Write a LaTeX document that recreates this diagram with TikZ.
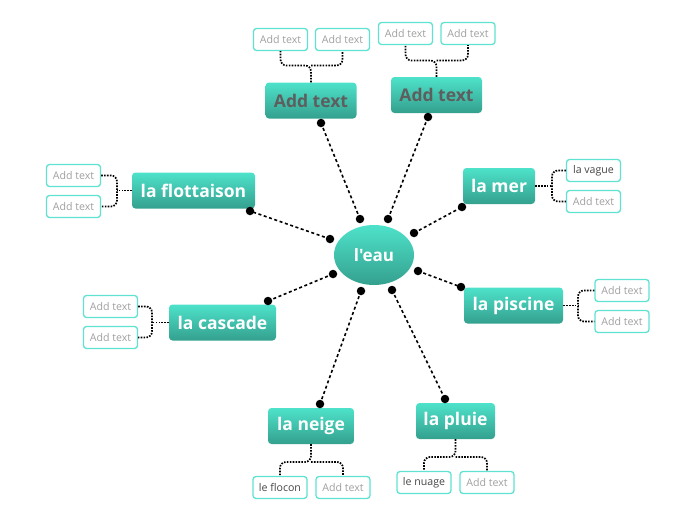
\documentclass[tikz,border=0pt]{standalone}
\usepackage{fontspec}
\setmainfont{Open Sans}[Ligatures=TeXOff]
\usetikzlibrary{shapes.geometric}
\definecolor{tealtop}{HTML}{4EE2CA}
\definecolor{tealbot}{HTML}{34A08E}
\definecolor{subborder}{HTML}{5FE3D0}
\definecolor{addgray}{HTML}{A0A0A0}
\definecolor{darkgray}{HTML}{454545}
\definecolor{maingray}{HTML}{5E5E5E}
\tikzset{
  mainbox/.style={rectangle, rounded corners=3.5pt, top color=tealtop, bottom color=tealbot,
    draw=none, minimum height=36pt, inner xsep=4pt, font=\bfseries\fontsize{17.5}{19}\selectfont, text=white},
  centre/.style={ellipse, top color=tealtop, bottom color=tealbot, draw=none,
    minimum width=80pt, minimum height=60pt, inner sep=0pt, font=\bfseries\fontsize{17}{19}\selectfont, text=white},
  subbox/.style={rectangle, rounded corners=3pt, draw=subborder, line width=1.3pt, fill=white,
    minimum width=54pt, minimum height=22pt, inner sep=1pt, font=\fontsize{10.6}{12}\selectfont, text=addgray},
  subdark/.style={subbox, text=darkgray},
  link/.style={line width=1.6pt, dash pattern=on 3pt off 2.6pt},
  dotlink/.style={line width=1.7pt, dash pattern=on 1.6pt off 1.3pt, rounded corners=6pt},
  dotend/.style={circle, fill=black, inner sep=0pt, minimum size=8.5pt}
}
\begin{document}
\begin{tikzpicture}[x=1pt,y=-1pt]
\useasboundingbox (0,0) rectangle (696,520);
% centre
\node[centre] (e) at (374,255) {l'eau};
% main nodes
\node[mainbox, minimum width=91pt, text=maingray] (tl) at (311,100.5) {Add text};
\node[mainbox, minimum width=91pt, text=maingray] (tr) at (436.5,95) {Add text};
\node[mainbox, minimum width=123pt] (fl) at (193.5,190.5) {la flottaison};
\node[mainbox, minimum width=72pt] (me) at (499,186) {la mer};
\node[mainbox, minimum width=107pt] (ca) at (222.5,322.5) {la cascade};
\node[mainbox, minimum width=99pt] (pi) at (513.5,305.5) {la piscine};
\node[mainbox, minimum width=86pt] (ne) at (311,426) {la neige};
\node[mainbox, minimum width=79pt] (pl) at (455.5,421) {la pluie};
% sub boxes
\node[subbox] (tl1) at (280.5,39.5) {Add text};
\node[subbox] (tl2) at (342.5,39.5) {Add text};
\node[subbox] (tr1) at (405.5,33.5) {Add text};
\node[subbox] (tr2) at (468,33.5) {Add text};
\node[subbox] (fl1) at (73.5,175.5) {Add text};
\node[subbox] (fl2) at (73.5,206.5) {Add text};
\node[subdark] (me1) at (593.5,170.5) {la vague};
\node[subbox] (me2) at (593.5,201.5) {Add text};
\node[subbox] (ca1) at (110.5,306.5) {Add text};
\node[subbox] (ca2) at (110.5,337.5) {Add text};
\node[subbox] (pi1) at (622,290.5) {Add text};
\node[subbox] (pi2) at (622,321.5) {Add text};
\node[subdark] (ne1) at (280,487.5) {le flocon};
\node[subbox] (ne2) at (343,487.5) {Add text};
\node[subdark] (pl1) at (424,482.5) {le nuage};
\node[subbox] (pl2) at (487,482.5) {Add text};
% dot ends
\node[dotend] (a1) at (360,219) {};  \node[dotend] (b1) at (321,123) {};
\node[dotend] (a2) at (388,219) {};  \node[dotend] (b2) at (428,117) {};
\node[dotend] (a3) at (330,239) {};  \node[dotend] (b3) at (250,211) {};
\node[dotend] (a4) at (414,233) {};  \node[dotend] (b4) at (462,207) {};
\node[dotend] (a5) at (333,274) {};  \node[dotend] (b5) at (268,301) {};
\node[dotend] (a6) at (418,271) {};  \node[dotend] (b6) at (461,287) {};
\node[dotend] (a7) at (361,291) {};  \node[dotend] (b7) at (320,404) {};
\node[dotend] (a8) at (392,290) {};  \node[dotend] (b8) at (445,399) {};
\foreach \i in {1,...,8} {\draw[link] (a\i.center) -- (b\i.center);}
% branch connectors
\draw[dotlink] (tl.north) -- (311,65.5) -| (tl1.south);
\draw[dotlink] (311,65.5) -| (tl2.south);
\draw[dotlink] (tr.north) -- (436.5,60.5) -| (tr1.south);
\draw[dotlink] (436.5,60.5) -| (tr2.south);
\draw[dotlink] (fl.west) -- (117,190.5);
\draw[dotlink] (fl1.east) -| (117,190.5) |- (fl2.east);
\draw[dotlink] (me.east) -- (552,186);
\draw[dotlink] (me1.west) -| (552,186) |- (me2.west);
\draw[dotlink] (ca.west) -- (152,322.5);
\draw[dotlink] (ca1.east) -| (152,322.5) |- (ca2.east);
\draw[dotlink] (pi.east) -- (578,305.5);
\draw[dotlink] (pi1.west) -| (578,305.5) |- (pi2.west);
\draw[dotlink] (ne.south) -- (311,462) -| (ne1.north);
\draw[dotlink] (311,462) -| (ne2.north);
\draw[dotlink] (pl.south) -- (455.5,457) -| (pl1.north);
\draw[dotlink] (455.5,457) -| (pl2.north);
\end{tikzpicture}
\end{document}
